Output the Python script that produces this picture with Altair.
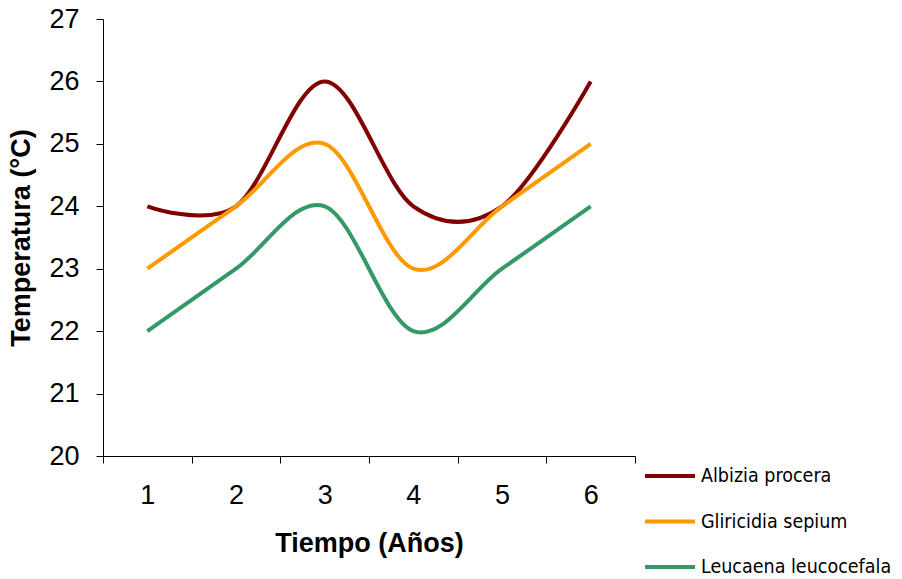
import altair as alt
import pandas as pd

years = [1, 2, 3, 4, 5, 6]
albizia = [24, 24, 26, 24, 24, 26]
gliricidia = [23, 24, 25, 23, 24, 25]
leucaena = [22, 23, 24, 22, 23, 24]
series_names = ["Albizia procera", "Gliricidia sepium", "Leucaena leucocefala"]
colors = ["#800000", "#FF9900", "#339966"]

rows = []
for name, vals in zip(series_names, [albizia, gliricidia, leucaena]):
    for y, v in zip(years, vals):
        rows.append({"Año": y, "Temperatura": v, "Especie": name})
df = pd.DataFrame(rows)

W, H = 532, 437
band = W / 6.0
FONT = "Liberation Sans, Arial, sans-serif"
NARROW = "Liberation Sans Narrow, Arial Narrow, DejaVu Sans Condensed, sans-serif"

chart = alt.Chart(df).mark_line(interpolate="cardinal", strokeWidth=4).encode(
    x=alt.X(
        "Año:Q",
        scale=alt.Scale(domain=[0.5, 6.5], nice=False, zero=False),
        axis=alt.Axis(
            title="Tiempo (Años)",
            values=[0.5, 1.5, 2.5, 3.5, 4.5, 5.5, 6.5],
            labelExpr="datum.value < 6 ? format(datum.value + 0.5, 'd') : ''",
            labelOffset=band / 2,
            labelFlush=False,
            grid=False,
            tickSize=7,
            tickColor="#000000",
            domainColor="#000000",
            labelPadding=19,
            labelFontSize=27,
            labelFont=FONT,
            labelColor="#000000",
            titleFont=FONT,
            titleFontSize=27,
            titleFontWeight="bold",
            titleColor="#000000",
            titlePadding=22,
        ),
    ),
    y=alt.Y(
        "Temperatura:Q",
        scale=alt.Scale(domain=[20, 27], nice=False, zero=False),
        axis=alt.Axis(
            title="Temperatura (°C)",
            values=[20, 21, 22, 23, 24, 25, 26, 27],
            grid=False,
            tickSize=7,
            tickColor="#000000",
            domainColor="#000000",
            labelPadding=17,
            labelFontSize=27,
            labelFont=FONT,
            labelColor="#000000",
            labelFlush=False,
            titleFont=FONT,
            titleFontSize=27,
            titleFontWeight="bold",
            titleColor="#000000",
            titlePadding=13,
        ),
    ),
    color=alt.Color(
        "Especie:N",
        scale=alt.Scale(domain=series_names, range=colors),
        legend=alt.Legend(
            title=None,
            orient="none",
            legendX=540,
            legendY=447,
            symbolType="stroke",
            symbolSize=2500,
            symbolStrokeWidth=4,
            clipHeight=20,
            rowPadding=25.5,
            labelOffset=4,
            labelFont=NARROW,
            labelFontSize=19.5,
            labelColor="#000000",
            labelLimit=300,
        ),
    ),
).properties(
    width=W,
    height=H,
    autosize=alt.AutoSizeParams(type="none"),
    padding={"left": 103, "top": 19, "right": 267, "bottom": 123},
).configure(background="#FFFFFF").configure_view(stroke=None, strokeWidth=0)

chart.save("out.html", embed_options={"renderer": "svg", "actions": False})
